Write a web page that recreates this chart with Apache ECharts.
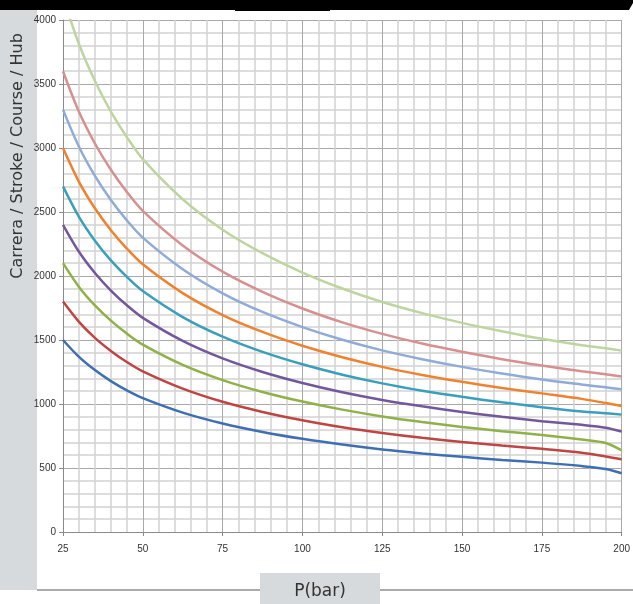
<!DOCTYPE html>
<html>
<head>
<meta charset="utf-8">
<script src="https://cdn.jsdelivr.net/npm/echarts@6/dist/echarts.min.js"></script>
<style>
html,body{margin:0;padding:0;background:#fff;}
#c{width:633px;height:604px;}
</style>
</head>
<body>
<div id="c"></div>
<script>
var xValues = [25, 30, 35, 40, 45, 50, 62.5, 75, 87.5, 100, 112.5, 125, 137.5, 150, 162.5, 175, 187.5, 195, 200];
var xTicks = [25, 50, 75, 100, 125, 150, 175, 200];
var yTicks = [0, 500, 1000, 1500, 2000, 2500, 3000, 3500, 4000];

var s1 = [1500, 1368, 1265, 1179, 1107, 1046, 933, 848, 782, 728, 683, 645, 614, 587, 563, 542, 515, 492, 459];
var s2 = [1800, 1642, 1517, 1415, 1328, 1255, 1120, 1017, 938, 873, 819, 774, 736, 704, 675, 650, 620, 590, 568];
var s3 = [2100, 1915, 1770, 1651, 1550, 1464, 1306, 1187, 1094, 1019, 956, 903, 859, 821, 788, 758, 722, 695, 637];
var s4 = [2400, 2189, 2023, 1886, 1771, 1673, 1493, 1356, 1250, 1164, 1092, 1032, 982, 938, 900, 866, 837, 815, 785];
var s5 = [2700, 2462, 2276, 2122, 1993, 1882, 1679, 1526, 1407, 1310, 1229, 1161, 1104, 1056, 1013, 975, 942, 928, 917];
var s6 = [3000, 2736, 2529, 2358, 2214, 2091, 1866, 1695, 1563, 1455, 1365, 1290, 1227, 1173, 1125, 1083, 1040, 1008, 984];
var s7 = [3300, 3010, 2782, 2594, 2435, 2300, 2053, 1865, 1719, 1601, 1502, 1419, 1350, 1290, 1238, 1191, 1152, 1130, 1115];
var s8 = [3600, 3283, 3035, 2830, 2657, 2509, 2239, 2034, 1876, 1746, 1638, 1548, 1472, 1408, 1350, 1300, 1256, 1232, 1214];
var s9 = [4180, 3812, 3524, 3285, 3085, 2913, 2600, 2362, 2178, 2027, 1902, 1797, 1710, 1634, 1568, 1509, 1459, 1435, 1417];

var seriesValues = [s1, s2, s3, s4, s5, s6, s7, s8, s9];
var colors = ['#3f6fb3', '#bf4542', '#8fb147', '#73579c', '#3a9fbd', '#f0822f', '#8fabd8', '#d6908f', '#bdd59e'];

function pairs(vals) {
  return xValues.map(function (x, i) { return [x, vals[i]]; });
}

var chart = echarts.init(document.getElementById('c'), null, {renderer: 'canvas'});
var tickFont = '"Liberation Sans Narrow", "Liberation Sans", sans-serif';
chart.setOption({
  animation: false,
  backgroundColor: '#ffffff',
  grid: {left: 63, right: 6, top: 20, bottom: 72, containLabel: false},
  xAxis: {
    type: 'value', min: xTicks[0], max: xTicks[xTicks.length - 1], interval: 25,
    axisLine: {show: true, lineStyle: {color: '#8a8a8a', width: 1}},
    axisTick: {show: true, length: 4, lineStyle: {color: '#8a8a8a'}},
    axisLabel: {color: '#333', fontSize: 10, fontFamily: tickFont, margin: 12,
      formatter: function (v) { return String(v); }},
    splitLine: {show: true, lineStyle: {color: '#a8a8a8', width: 1}},
    minorTick: {show: false, splitNumber: 5},
    minorSplitLine: {show: true, lineStyle: {color: '#d2d2d2', width: 1.5}}
  },
  yAxis: {
    type: 'value', min: yTicks[0], max: yTicks[yTicks.length - 1], interval: 500,
    axisLine: {show: true, lineStyle: {color: '#8a8a8a', width: 1}},
    axisTick: {show: true, length: 4, lineStyle: {color: '#8a8a8a'}},
    axisLabel: {color: '#333', fontSize: 10, fontFamily: tickFont, margin: 7,
      formatter: function (v) { return String(v); }},
    splitLine: {show: true, lineStyle: {color: '#a8a8a8', width: 1}},
    minorTick: {show: false, splitNumber: 5},
    minorSplitLine: {show: true, lineStyle: {color: '#d2d2d2', width: 1.5}}
  },
  series: seriesValues.map(function (v, i) {
    return {
      type: 'line', data: pairs(v), smooth: 0.3, showSymbol: false, clip: true,
      lineStyle: {color: colors[i], width: 2.5}, z: 3
    };
  }),
  graphic: [
    {type: 'rect', shape: {x: 0, y: 10, width: 37, height: 580}, style: {fill: '#d6dadd'}, silent: true, z: -1},
    {type: 'polygon', shape: {points: [[0, 0], [633, 0], [633, 3], [629, 10], [0, 10]]}, style: {fill: '#000'}, silent: true},
    {type: 'rect', shape: {x: 235, y: 9, width: 95, height: 2}, style: {fill: '#000'}, silent: true},
    {type: 'line', shape: {x1: 37, y1: 590, x2: 633, y2: 590}, style: {stroke: '#8f8f8f', lineWidth: 1.5}, silent: true},
    {type: 'rect', shape: {x: 260, y: 573, width: 120, height: 31}, style: {fill: '#d6dadd'}, silent: true, z: 10},
    {type: 'text', x: 320, y: 592, style: {text: 'P(bar)', fill: '#333', font: '17px "DejaVu Sans", sans-serif', textAlign: 'center', textVerticalAlign: 'middle'}, silent: true, z: 11},
    {type: 'text', x: 18, y: 156, rotation: Math.PI / 2, style: {text: 'Carrera / Stroke / Course / Hub', fill: '#333', font: '16px "DejaVu Sans", sans-serif', textAlign: 'center', textVerticalAlign: 'middle'}, silent: true, z: 11}
  ]
});
</script>
</body>
</html>
